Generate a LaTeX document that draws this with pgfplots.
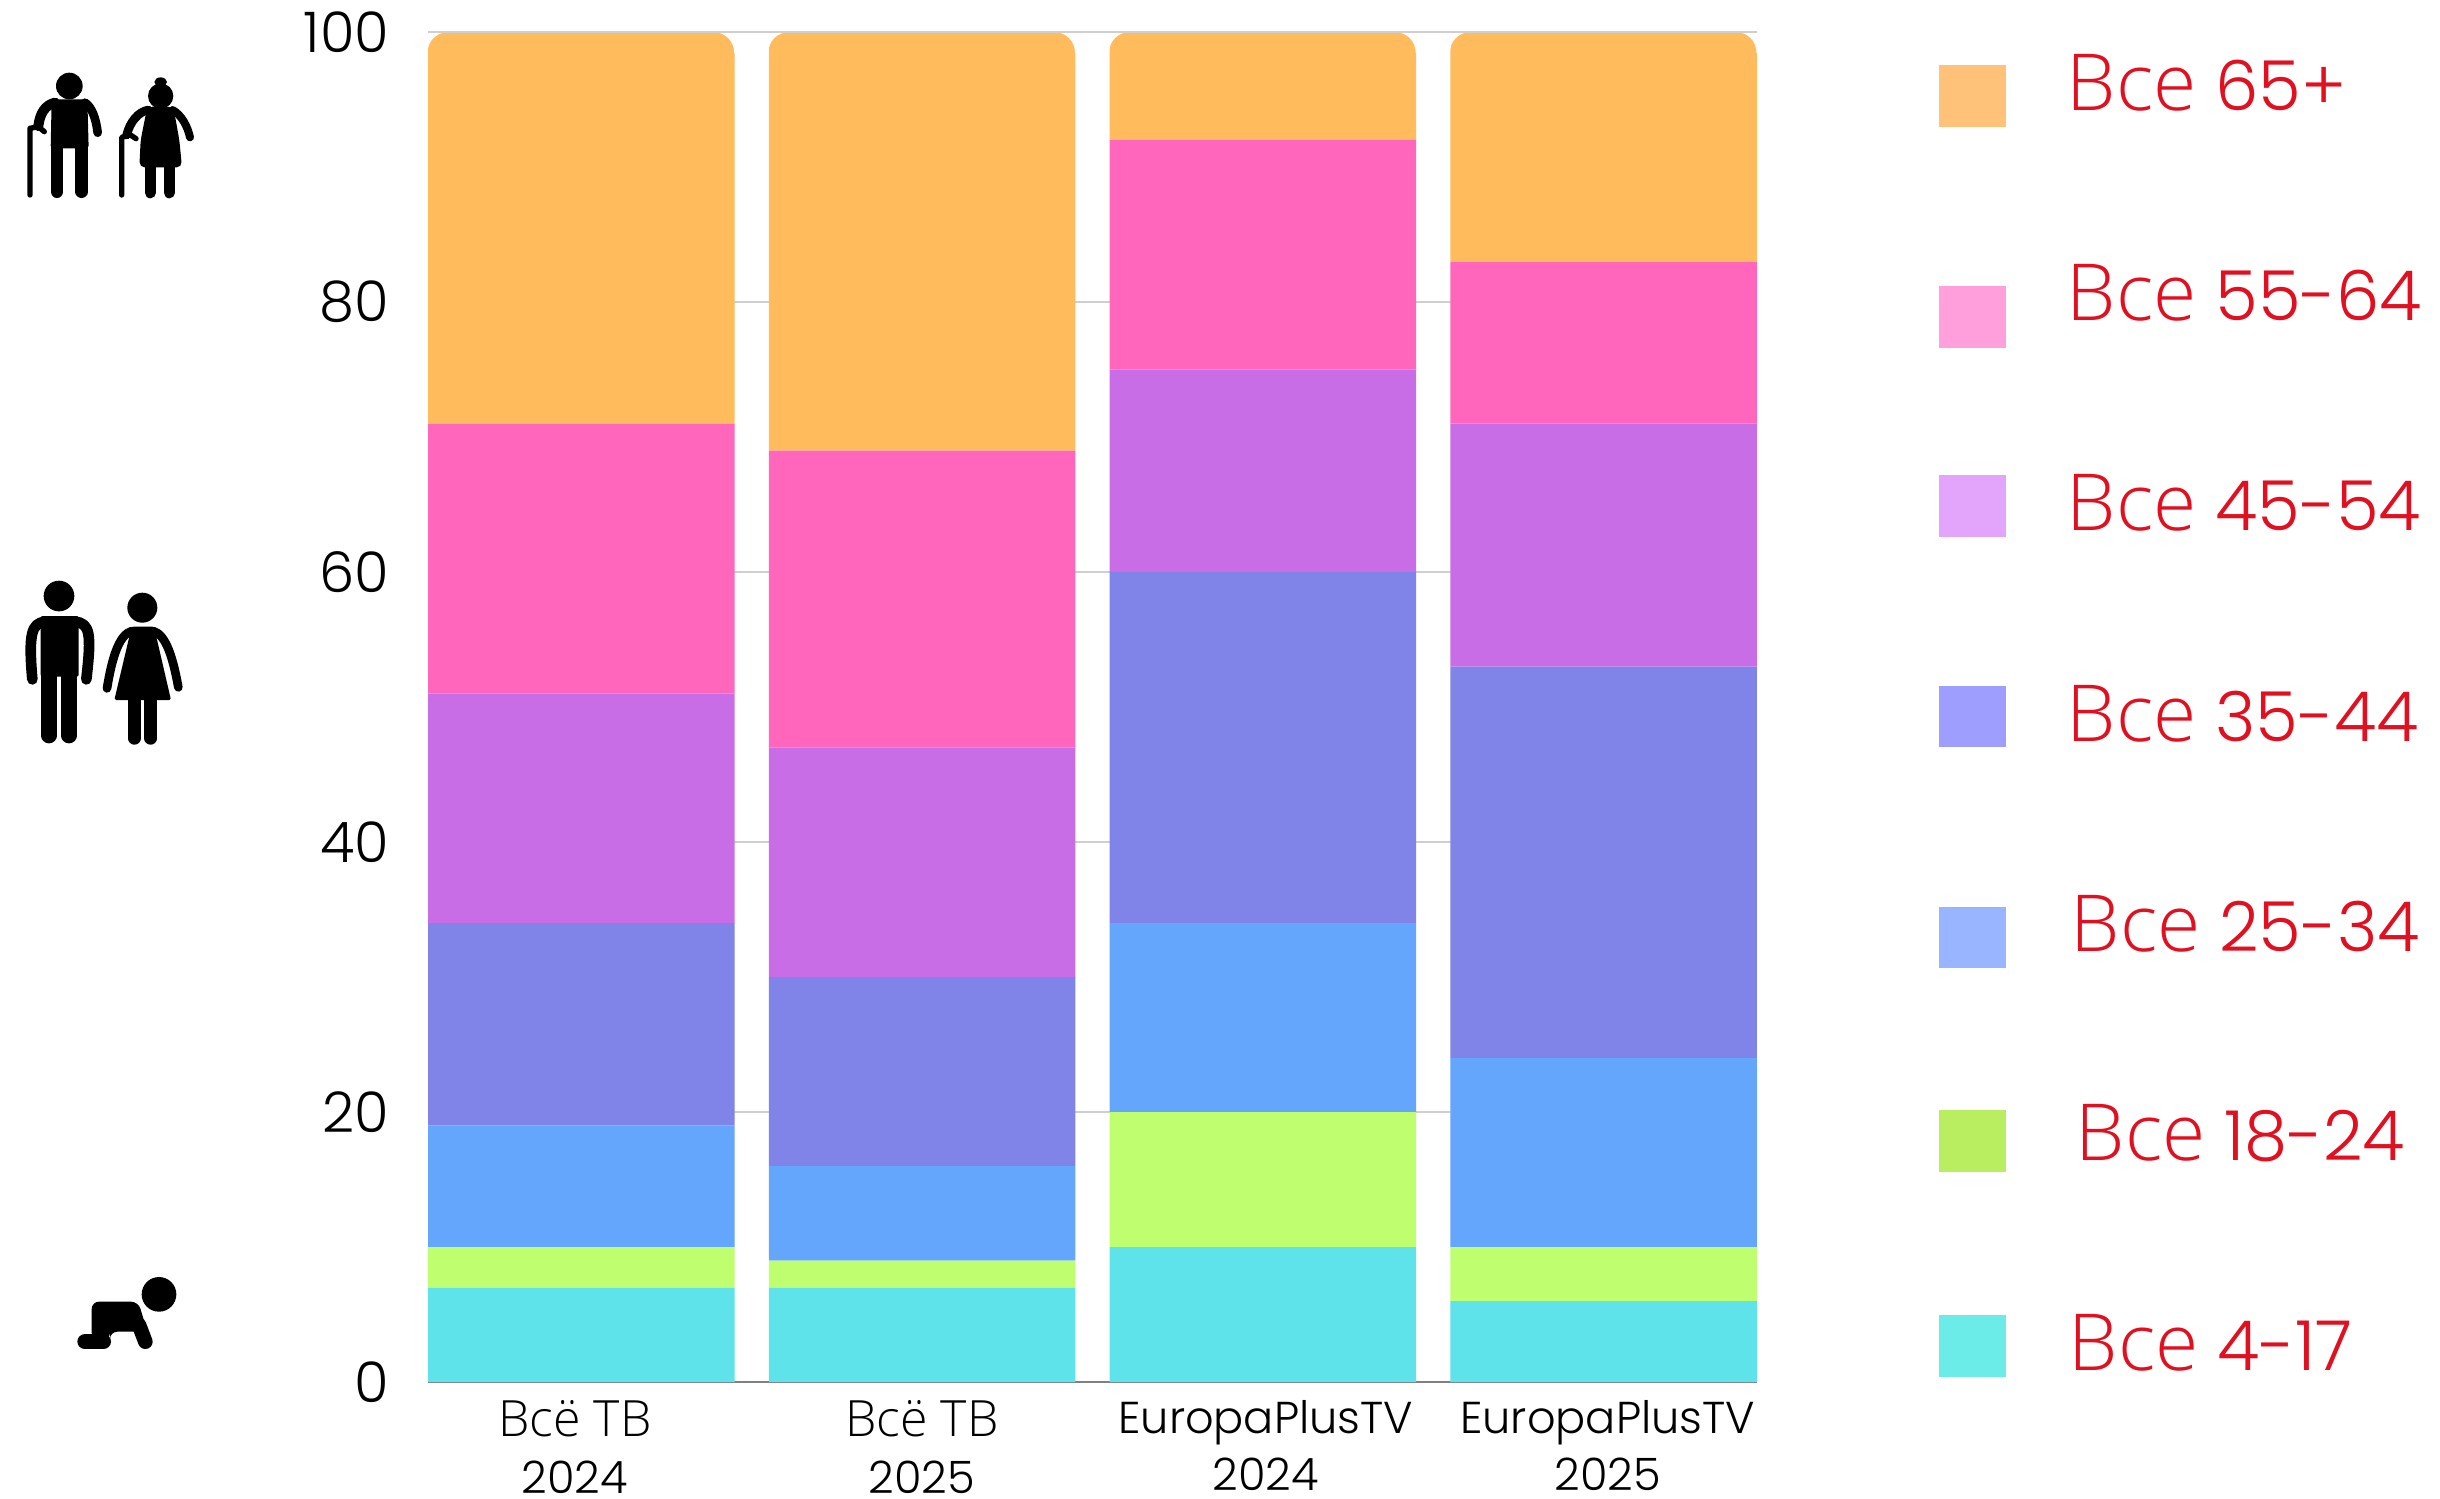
\documentclass[border=0pt]{standalone}
\usepackage{fontspec}
\usepackage{pgfplots}
\pgfplotsset{compat=1.18}
\setmainfont{Poppins}[UprightFont=* Light]
\newfontfamily\cyr{Open Sans}[UprightFont=* Light,Scale=1.12]
\newfontfamily\cyrleg{Open Sans}[UprightFont=* Light,Scale=1.14]

% bars
\definecolor{c65}{HTML}{FFBB5C}
\definecolor{c55}{HTML}{FF66BC}
\definecolor{c45}{HTML}{C96DE6}
\definecolor{c35}{HTML}{8083E8}
\definecolor{c25}{HTML}{64A6FB}
\definecolor{c18}{HTML}{BFFF6F}
\definecolor{c4}{HTML}{5DE3E9}
% legend swatches are paler than the bars
\definecolor{l65}{HTML}{FFC278}
\definecolor{l55}{HTML}{FFA0DC}
\definecolor{l45}{HTML}{E3A4FC}
\definecolor{l35}{HTML}{9E9EFE}
\definecolor{l25}{HTML}{9AB5FF}
\definecolor{l18}{HTML}{B8EE60}
\definecolor{l4}{HTML}{6CECE8}
\definecolor{legred}{HTML}{E01020}
\definecolor{gridc}{HTML}{CFCFCF}

% swatch top, bottom, text left, baseline (px), colour, text
\newcommand{\legrow}[6]{%
  \fill[#5] (1939,#1) rectangle (2006,#2);
  \node[anchor=base west,inner sep=0pt,text=legred,font=\fontsize{20.7}{24}\selectfont] at (#3,#4) {#6};
}

\begin{document}
\begin{tikzpicture}
\begin{axis}[
    at={(128.4pt,-414.6pt)}, anchor=south west,
    scale only axis, width=398.7pt, height=405pt,
    ybar stacked, bar width=0.9,
    xmin=-0.45, xmax=3.45, ymin=0, ymax=100,
    clip=false,
    axis x line=bottom, axis y line=left,
    axis line style={-, draw=none},
    ymajorgrids, grid style={gridc, line width=0.45pt},
    extra y ticks={0}, extra y tick labels={},
    extra y tick style={grid=major, grid style={gray, line width=0.5pt}},
    major tick length=0pt,
    ytick={0,20,...,100},
    xtick={-0.019,0.9995,2.0085,3.012},
    xticklabels={{{\cyr Всё ТВ}\\2024},{{\cyr Всё ТВ}\\2025},{EuropaPlusTV\\2024},{EuropaPlusTV\\2025}},
    /pgf/number format/assume math mode=true,
    yticklabel style={font=\fontsize{16.8}{18}\selectfont, inner sep=0pt, xshift=-11.5pt},
    xticklabel style={font=\fontsize{13.4}{17.2}\selectfont, align=center, inner sep=0pt, yshift=-5.2pt},
  ]
  \addplot[fill=c4,  draw=none] coordinates {(0,7)  (1,7)  (2,10) (3,6)};
  \addplot[fill=c18, draw=none] coordinates {(0,3)  (1,2)  (2,10) (3,4)};
  \addplot[fill=c25, draw=none] coordinates {(0,9)  (1,7)  (2,14) (3,14)};
  \addplot[fill=c35, draw=none] coordinates {(0,15) (1,14) (2,26) (3,29)};
  \addplot[fill=c45, draw=none] coordinates {(0,17) (1,17) (2,15) (3,18)};
  \addplot[fill=c55, draw=none] coordinates {(0,20) (1,22) (2,17) (3,12)};
  \addplot[fill=c65, draw=none] coordinates {(0,29) (1,31) (2,8)  (3,17)};
\end{axis}

% page in reference pixels, y downwards
\begin{scope}[x=0.3pt,y=-0.3pt]
  \path[use as bounding box] (0,0) rectangle (2440,1498);

  % the top corners of each column are rounded
  \foreach \bl in {427.5,768.3,1109,1449.8} {
    \fill[white] (\bl-1,31) -- (\bl-1,53) -- (\bl,53)
      .. controls (\bl,41) and (\bl+9,32) .. (\bl+21,32) -- (\bl+21,31) -- cycle;
    \fill[white] (\bl+307.7,31) -- (\bl+307.7,53) -- (\bl+306.7,53)
      .. controls (\bl+306.7,41) and (\bl+297.7,32) .. (\bl+285.7,32) -- (\bl+285.7,31) -- cycle;
  }
  \draw[gridc, line width=0.45pt] (428,32) -- (1757,32);

  \legrow{65}{127}{2066}{110}{l65}{{\cyrleg Все} 65+}
  \legrow{286}{348}{2066}{320}{l55}{{\cyrleg Все} 55-64}
  \legrow{475}{537}{2066}{530}{l45}{{\cyrleg Все} 45-54}
  \legrow{686}{747}{2066}{741}{l35}{{\cyrleg Все} 35-44}
  \legrow{907}{968}{2070}{951}{l25}{{\cyrleg Все} 25-34}
  \legrow{1110}{1172}{2075}{1160}{l18}{{\cyrleg Все} 18-24}
  \legrow{1315}{1377}{2068}{1370}{l4}{{\cyrleg Все} 4-17}
\end{scope}

% pictograms, in crop coordinates (1 unit = 1/3 px)
\tikzset{limb/.style={draw=black,line cap=round,line join=round,line width=#1*0.1pt}}
\begin{scope}[shift={(3pt,-18pt)},x=0.1pt,y=-0.1pt]
  % old man
  \fill (178,78) circle (40);
  \fill[rounded corners=0.8pt] (125,118) -- (232,118) -- (236,265) -- (122,265) -- cycle;
  \draw[limb=38] (141,240) -- (141,395);
  \draw[limb=38] (215,240) -- (215,395);
  \draw[limb=30] (135,128) .. controls (105,135) and (90,160) .. (85,198);
  \draw[limb=26] (225,128) .. controls (245,140) and (258,175) .. (263,218);
  \draw[limb=16] (60,405) -- (60,205) -- (85,200) -- (103,215);
  % old woman
  \fill (452,108) circle (38);
  \fill (452,66) ellipse (19 and 14);
  \fill[rounded corners=1.6pt] (412,140) -- (490,140) -- (508,240) -- (516,322) -- (388,322) -- (392,240) -- cycle;
  \draw[limb=34] (421,320) -- (421,398);
  \draw[limb=34] (478,320) -- (478,398);
  \draw[limb=26] (415,150) .. controls (385,155) and (360,185) .. (350,225);
  \draw[limb=24] (488,150) .. controls (515,165) and (533,200) .. (540,232);
  \draw[limb=16] (335,405) -- (335,232) -- (360,224) -- (378,236);
\end{scope}
\begin{scope}[shift={(3pt,-171pt)},x=0.1pt,y=-0.1pt]
  % man
  \fill (147,78) circle (46);
  \fill[rounded corners=0.6pt] (92,138) -- (206,138) -- (206,320) -- (92,320) -- cycle;
  \draw[limb=46] (117,300) -- (117,497);
  \draw[limb=46] (177,300) -- (177,497);
  \draw[limb=32] (105,155) .. controls (65,160) and (55,190) .. (67,328);
  \draw[limb=32] (195,155) .. controls (240,160) and (245,190) .. (229,328);
  % woman
  \fill (397,113) circle (45);
  \fill[rounded corners=0.5pt] (365,170) -- (432,170) -- (483,390) -- (313,390) -- cycle;
  \draw[limb=38] (373,385) -- (373,505);
  \draw[limb=38] (422,385) -- (422,505);
  \draw[limb=26] (365,183) .. controls (325,195) and (305,270) .. (291,355);
  \draw[limb=26] (430,183) .. controls (470,195) and (490,270) .. (505,352);
\end{scope}
\begin{scope}[shift={(18pt,-378pt)},x=0.1pt,y=-0.1pt]
  % crawling baby
  \fill (297,103) circle (52);
  \fill[rounded corners=2.2pt] (95,240) -- (95,125) -- (235,125) -- (262,215) -- (150,215) -- (150,240) -- cycle;
  \draw[limb=46] (75,245) -- (130,245);
  \draw[limb=44] (237,195) -- (256,245);
\end{scope}
\end{tikzpicture}
\end{document}
